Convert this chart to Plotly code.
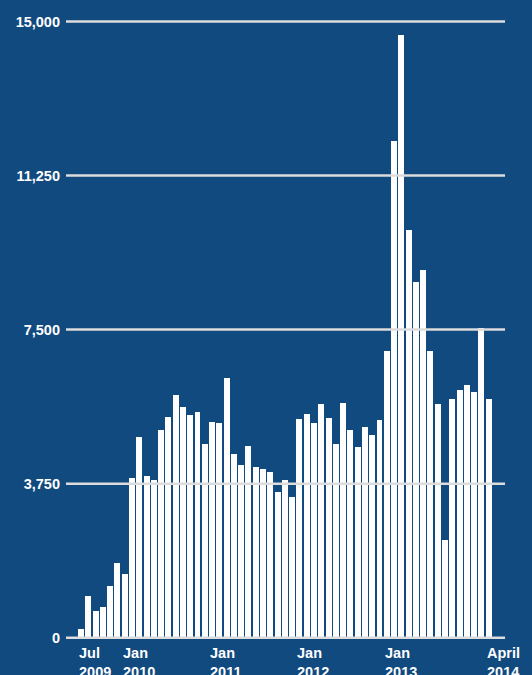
import plotly.graph_objects as go

# Monthly values, Jul 2009 .. spring 2014 (57 bars)
values = [
    220, 1020, 660, 750, 1260, 1820, 1560, 3890, 4890, 3940,
    3850, 5060, 5380, 5900, 5620, 5410, 5500, 4720, 5260, 5220,
    6310, 4480, 4210, 4670, 4160, 4110, 4040, 3550, 3850, 3430,
    5330, 5450, 5230, 5700, 5360, 4720, 5720, 5060, 4630, 5140,
    4940, 5310, 6990, 12090, 14680, 9920, 8670, 8950, 6990, 5700,
    2380, 5800, 6020, 6140, 5970, 7550, 5820,
]
bar_index = list(range(len(values)))

x_label_index = [0, 6, 18, 30, 42, 56]
x_label_text = ["Jul<br>2009", "Jan<br>2010", "Jan<br>2011", "Jan<br>2012", "Jan<br>2013", "April<br>2014"]

y_tick_vals = [0, 3750, 7500, 11250, 15000]
y_tick_text = ["0", "3,750", "7,500", "11,250", "15,000"]

BG = "#114a7f"
GRID = "#dcdcdc"
FONT = "Liberation Sans"
BAR_W = 0.82

fig = go.Figure()
fig.add_trace(go.Bar(
    x=bar_index, y=values, width=BAR_W,
    marker=dict(color="#ffffff", line=dict(width=0)),
    hoverinfo="skip",
))

for v in y_tick_vals:
    fig.add_shape(type="line", xref="paper", yref="y", x0=0, x1=1, y0=v, y1=v,
                  line=dict(color=GRID, width=2.5), layer="above")

for i, t in zip(x_label_index, x_label_text):
    fig.add_annotation(x=i - BAR_W / 2, y=0, xref="x", yref="y", text="<b>" + t + "</b>",
                       showarrow=False, xanchor="left", yanchor="top", align="left",
                       yshift=-5, xshift=-1, font=dict(family=FONT, size=14.5, color="#ffffff"))

fig.update_layout(
    width=532, height=675,
    margin=dict(l=66, r=27, t=15, b=30),
    paper_bgcolor=BG, plot_bgcolor=BG,
    showlegend=False,
    bargap=0,
    font=dict(family=FONT, color="#ffffff", size=14),
)
fig.update_xaxes(range=[-2.06, 58.24], showgrid=False, zeroline=False, showticklabels=False,
                 ticks="", showline=False, fixedrange=True)
fig.update_yaxes(range=[-178, 15158], tickvals=y_tick_vals,
                 ticktext=["<b>" + t + "</b>" for t in y_tick_text],
                 showgrid=False, zeroline=False, ticks="", showline=False,
                 ticklabelstandoff=5, tickfont=dict(family=FONT, size=14.5, color="#ffffff"),
                 fixedrange=True)

fig.write_html("out.html", config={"displayModeBar": False},
               post_script="document.body.style.margin='0';document.body.style.overflow='hidden';")
